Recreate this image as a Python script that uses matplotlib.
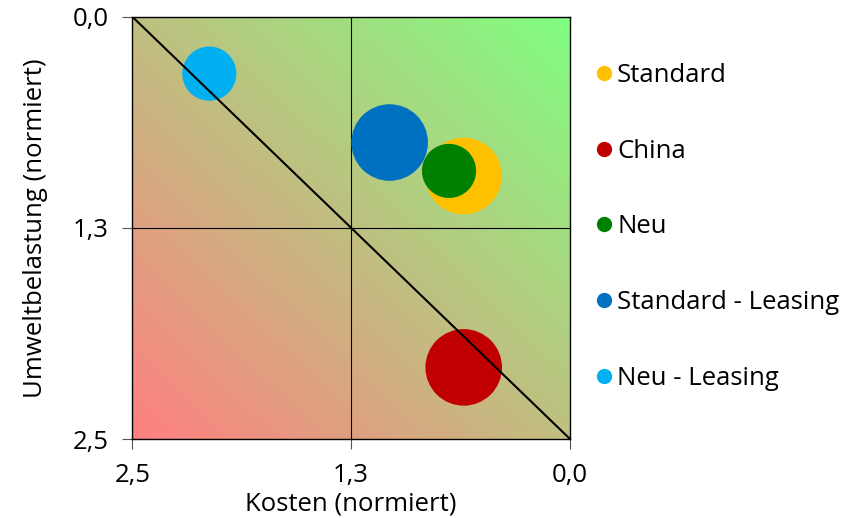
import matplotlib
matplotlib.use("Agg")
import matplotlib.pyplot as plt
from matplotlib.colors import LinearSegmentedColormap
from matplotlib.lines import Line2D
import numpy as np

plt.rcParams['font.family'] = ['Open Sans', 'DejaVu Sans']

# bubble data (normalised costs / environmental load)
labels = ["Standard", "China", "Neu", "Standard - Leasing", "Neu - Leasing"]
kosten = [0.608, 0.607, 0.691, 1.030, 2.060]
umwelt = [0.943, 2.076, 0.913, 0.745, 0.337]
groesse = [2.0, 2.0, 1.0, 2.0, 1.0]
farben = ["#FFC000", "#C00000", "#008000", "#0070C0", "#00B0F0"]

ticks = [2.5, 1.25, 0.0]
tick_labels = ["2,5", "1,3", "0,0"]
lim = 2.5
fs = 18.5


def main():
    fig = plt.figure(figsize=(8.6, 5.18), dpi=100)
    ax = fig.add_axes([0.1538, 0.1525, 0.509, 0.8153])

    # diagonal red -> green background
    cmap = LinearSegmentedColormap.from_list("rg", ["#FF8080", "#80FF80"])
    g = np.linspace(0, 1, 256)
    grad = (g[None, :] + g[::-1][:, None]) / 2.0
    ax.imshow(grad, cmap=cmap, extent=[lim, 0, lim, 0], aspect='auto',
              origin='upper', zorder=0, vmin=0, vmax=1)

    ax.set_xlim(lim, 0)
    ax.set_ylim(lim, 0)

    # quadrant lines and diagonal
    ax.axvline(lim / 2, color='black', lw=0.8, zorder=1)
    ax.axhline(lim / 2, color='black', lw=0.8, zorder=1)
    ax.plot([lim, 0], [0, lim], color='black', lw=1.5, zorder=3)

    for x, y, s, c in zip(kosten, umwelt, groesse, farben):
        ax.scatter(x, y, s=s * 1520, color=c, edgecolors='none', zorder=2)

    ax.set_xticks(ticks)
    ax.set_xticklabels(tick_labels)
    ax.set_yticks(ticks)
    ax.set_yticklabels(tick_labels)
    ax.tick_params(labelsize=fs, length=7, width=0.8, color='#555555', pad=10)
    for sp in ax.spines.values():
        sp.set_color('black')
        sp.set_linewidth(1.0)

    ax.set_xlabel("Kosten (normiert)", fontsize=fs, labelpad=3)
    ax.set_ylabel("Umweltbelastung (normiert)", fontsize=fs, labelpad=18)

    handles = [Line2D([], [], marker='o', ls='none', color=c, markersize=10)
               for c in farben]
    fig.legend(handles, labels, loc='upper left', bbox_to_anchor=(0.6757, 0.898),
               frameon=False, fontsize=fs, labelspacing=1.97,
               handletextpad=0.0, handlelength=1.0, borderaxespad=0)

    fig.savefig("out.png", dpi=100)


if __name__ == '__main__':
    main()
